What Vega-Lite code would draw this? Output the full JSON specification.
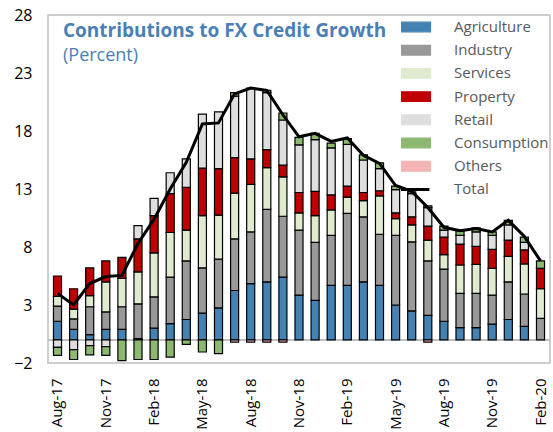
{
  "$schema": "https://vega.github.io/schema/vega-lite/v6.json",
  "width": 502,
  "height": 348,
  "autosize": {"type": "none"},
  "padding": {"left": 48, "top": 15, "right": 3, "bottom": 69},
  "background": "white",
  "config": {
    "view": {"stroke": "#bfbfbf", "strokeWidth": 1.5},
    "font": "Open Sans"
  },
  "title": {
    "text": "Contributions to FX Credit Growth",
    "subtitle": "(Percent)",
    "anchor": "start",
    "frame": "group",
    "offset": -58,
    "dx": 15,
    "font": "Open Sans",
    "fontSize": 19,
    "fontWeight": "bold",
    "color": "#4a7fb5",
    "subtitleFont": "Open Sans",
    "subtitleFontSize": 18,
    "subtitleColor": "#4a7fb5",
    "subtitlePadding": 6
  },
  "data": {
    "values": [
      {"month": "Aug-17", "Agriculture": 1.6, "Industry": 1.3, "Services": 0.85, "Property": 1.75, "Retail": -0.65, "Consumption": -0.7, "Others": 0, "Total": 4.0},
      {"month": "Sep-17", "Agriculture": 0.9, "Industry": 0.9, "Services": 0.85, "Property": 1.75, "Retail": -0.85, "Consumption": -0.85, "Others": 0, "Total": 3.0},
      {"month": "Oct-17", "Agriculture": 0.45, "Industry": 2.4, "Services": 0.95, "Property": 2.4, "Retail": -0.5, "Consumption": -0.8, "Others": 0, "Total": 4.85},
      {"month": "Nov-17", "Agriculture": 0.9, "Industry": 1.5, "Services": 2.6, "Property": 1.8, "Retail": -0.6, "Consumption": -0.75, "Others": 0, "Total": 5.45},
      {"month": "Dec-17", "Agriculture": 0.9, "Industry": 1.95, "Services": 2.45, "Property": 1.8, "Retail": 0, "Consumption": -1.8, "Others": 0, "Total": 5.55},
      {"month": "Jan-18", "Agriculture": 0.1, "Industry": 3.0, "Services": 2.75, "Property": 2.85, "Retail": 1.15, "Consumption": -1.7, "Others": 0, "Total": 8.3},
      {"month": "Feb-18", "Agriculture": 1.0, "Industry": 2.7, "Services": 3.8, "Property": 3.2, "Retail": 1.5, "Consumption": -1.7, "Others": 0, "Total": 10.4},
      {"month": "Mar-18", "Agriculture": 1.4, "Industry": 4.0, "Services": 3.85, "Property": 3.35, "Retail": 1.8, "Consumption": -1.5, "Others": 0, "Total": 13.0},
      {"month": "Apr-18", "Agriculture": 1.75, "Industry": 5.05, "Services": 2.65, "Property": 3.7, "Retail": 2.45, "Consumption": -0.4, "Others": 0, "Total": 15.3},
      {"month": "May-18", "Agriculture": 2.3, "Industry": 3.9, "Services": 4.5, "Property": 4.1, "Retail": 4.65, "Consumption": -1.05, "Others": 0, "Total": 18.6},
      {"month": "Jun-18", "Agriculture": 2.75, "Industry": 4.2, "Services": 3.8, "Property": 4.0, "Retail": 4.9, "Consumption": -1.2, "Others": 0, "Total": 18.7},
      {"month": "Jul-18", "Agriculture": 4.25, "Industry": 4.45, "Services": 3.95, "Property": 3.05, "Retail": 5.3, "Consumption": 0.3, "Others": -0.2, "Total": 21.2},
      {"month": "Aug-18", "Agriculture": 4.85, "Industry": 4.45, "Services": 4.1, "Property": 2.2, "Retail": 6.1, "Consumption": 0, "Others": -0.2, "Total": 21.7},
      {"month": "Sep-18", "Agriculture": 5.0, "Industry": 6.25, "Services": 3.6, "Property": 1.55, "Retail": 4.9, "Consumption": 0.2, "Others": -0.2, "Total": 21.5},
      {"month": "Oct-18", "Agriculture": 5.4, "Industry": 5.25, "Services": 3.4, "Property": 1.0, "Retail": 3.9, "Consumption": 0.6, "Others": -0.2, "Total": 19.4},
      {"month": "Nov-18", "Agriculture": 3.85, "Industry": 5.6, "Services": 1.5, "Property": 1.75, "Retail": 4.1, "Consumption": 0.65, "Others": 0, "Total": 17.5},
      {"month": "Dec-18", "Agriculture": 3.4, "Industry": 5.0, "Services": 2.3, "Property": 2.1, "Retail": 4.45, "Consumption": 0.55, "Others": 0, "Total": 17.8},
      {"month": "Jan-19", "Agriculture": 4.7, "Industry": 4.3, "Services": 2.2, "Property": 1.3, "Retail": 4.05, "Consumption": 0.4, "Others": 0, "Total": 17.1},
      {"month": "Feb-19", "Agriculture": 4.7, "Industry": 6.2, "Services": 1.4, "Property": 0.95, "Retail": 3.6, "Consumption": 0.5, "Others": 0, "Total": 17.4},
      {"month": "Mar-19", "Agriculture": 5.0, "Industry": 5.6, "Services": 1.4, "Property": 0.7, "Retail": 2.8, "Consumption": 0.45, "Others": 0, "Total": 15.9},
      {"month": "Apr-19", "Agriculture": 4.7, "Industry": 4.4, "Services": 3.3, "Property": 0.45, "Retail": 1.9, "Consumption": 0.5, "Others": 0, "Total": 15.2},
      {"month": "May-19", "Agriculture": 3.0, "Industry": 6.0, "Services": 1.45, "Property": 0.5, "Retail": 2.0, "Consumption": 0.3, "Others": 0, "Total": 13.3},
      {"month": "Jun-19", "Agriculture": 2.5, "Industry": 5.95, "Services": 1.45, "Property": 0.7, "Retail": 2.0, "Consumption": 0.15, "Others": 0, "Total": 12.8},
      {"month": "Jul-19", "Agriculture": 2.1, "Industry": 4.7, "Services": 1.8, "Property": 1.2, "Retail": 1.6, "Consumption": 0.15, "Others": -0.2, "Total": 11.4},
      {"month": "Aug-19", "Agriculture": 1.6, "Industry": 4.5, "Services": 1.25, "Property": 1.5, "Retail": 0.6, "Consumption": 0.35, "Others": 0, "Total": 9.7},
      {"month": "Sep-19", "Agriculture": 1.05, "Industry": 2.95, "Services": 2.45, "Property": 1.8, "Retail": 0.75, "Consumption": 0.4, "Others": 0, "Total": 9.4},
      {"month": "Oct-19", "Agriculture": 1.05, "Industry": 2.95, "Services": 2.5, "Property": 1.55, "Retail": 1.25, "Consumption": 0.35, "Others": 0, "Total": 9.6},
      {"month": "Nov-19", "Agriculture": 1.35, "Industry": 2.5, "Services": 2.3, "Property": 1.65, "Retail": 1.2, "Consumption": 0.3, "Others": 0, "Total": 9.3},
      {"month": "Dec-19", "Agriculture": 1.75, "Industry": 3.25, "Services": 2.2, "Property": 1.4, "Retail": 1.3, "Consumption": 0.4, "Others": 0, "Total": 10.3},
      {"month": "Jan-20", "Agriculture": 1.15, "Industry": 2.8, "Services": 2.6, "Property": 1.2, "Retail": 0.65, "Consumption": 0.45, "Others": 0, "Total": 8.9},
      {"month": "Feb-20", "Agriculture": 0, "Industry": 1.85, "Services": 2.55, "Property": 1.75, "Retail": 0, "Consumption": 0.65, "Others": 0, "Total": 6.8}
    ]
  },
  "layer": [
    {
      "mark": {"type": "rule", "color": "#bfbfbf", "strokeWidth": 1.5},
      "encoding": {"y": {"datum": 0, "type": "quantitative"}}
    },
    {
      "transform": [
        {"fold": ["Agriculture", "Industry", "Services", "Property", "Retail", "Consumption", "Others"], "as": ["sector", "value"]},
        {"window": [{"op": "row_number", "as": "stackorder"}], "groupby": ["month"]},
        {"filter": "datum.value != 0"}
      ],
      "mark": {"type": "bar", "stroke": "black", "strokeWidth": 1.2},
      "encoding": {
        "x": {
          "field": "month", "type": "ordinal", "sort": null,
          "scale": {"paddingInner": 0.5, "paddingOuter": 0.34},
          "axis": {
            "title": null,
            "values": ["Aug-17", "Nov-17", "Feb-18", "May-18", "Aug-18", "Nov-18", "Feb-19", "May-19", "Aug-19", "Nov-19", "Feb-20"],
            "labelAngle": -90,
            "labelFontSize": 15,
            "labelColor": "black",
            "labelFont": "Open Sans",
            "labelPadding": 15,
            "ticks": false,
            "domain": false,
            "grid": false
          }
        },
        "y": {
          "field": "value", "type": "quantitative", "stack": "zero",
          "scale": {"domain": [-2, 28], "nice": false, "zero": false},
          "axis": {
            "title": null,
            "values": [-2, 3, 8, 13, 18, 23, 28],
            "labelFontSize": 16,
            "labelColor": "black",
            "labelFont": "Open Sans",
            "labelPadding": 16,
            "ticks": false,
            "domain": false,
            "grid": false
          }
        },
        "order": {"field": "stackorder", "type": "quantitative", "sort": "ascending"},
        "color": {
          "field": "sector", "type": "nominal",
          "scale": {
            "domain": ["Agriculture", "Industry", "Services", "Property", "Retail", "Consumption", "Others", "Total"],
            "range": ["#4582b4", "#999999", "#dfeacf", "#c00000", "#dedede", "#8db870", "#f4b4b4", "black"]
          },
          "legend": {
            "title": null,
            "orient": "none",
            "legendX": 353,
            "legendY": 4,
            "padding": 0,
            "clipHeight": 16,
            "rowPadding": 7.2,
            "symbolType": "M-1,-0.22H1V0.22H-1Z",
            "symbolSize": 1936,
            "symbolStrokeColor": "black",
            "symbolStrokeWidth": 1.2,
            "labelFont": "Open Sans",
            "labelFontSize": 15,
            "labelColor": "#595959",
            "labelOffset": 38,
            "encode": {
              "symbols": {
                "update": {
                  "shape": {"signal": "datum.value === 'Total' ? 'M-1,0H0.95' : 'M-1,-0.22H1V0.22H-1Z'"},
                  "fill": {"signal": "datum.value === 'Total' ? 'transparent' : scale('color', datum.value)"},
                  "stroke": {"value": "black"},
                  "strokeWidth": {"signal": "datum.value === 'Total' ? 3 : 1.2"},
                  "opacity": {"value": 1}
                }
              }
            }
          }
        }
      }
    },
    {
      "mark": {"type": "line", "strokeWidth": 3},
      "encoding": {
        "x": {"field": "month", "type": "ordinal", "sort": null},
        "y": {"field": "Total", "type": "quantitative"},
        "color": {"datum": "Total", "type": "nominal"}
      }
    }
  ]
}
